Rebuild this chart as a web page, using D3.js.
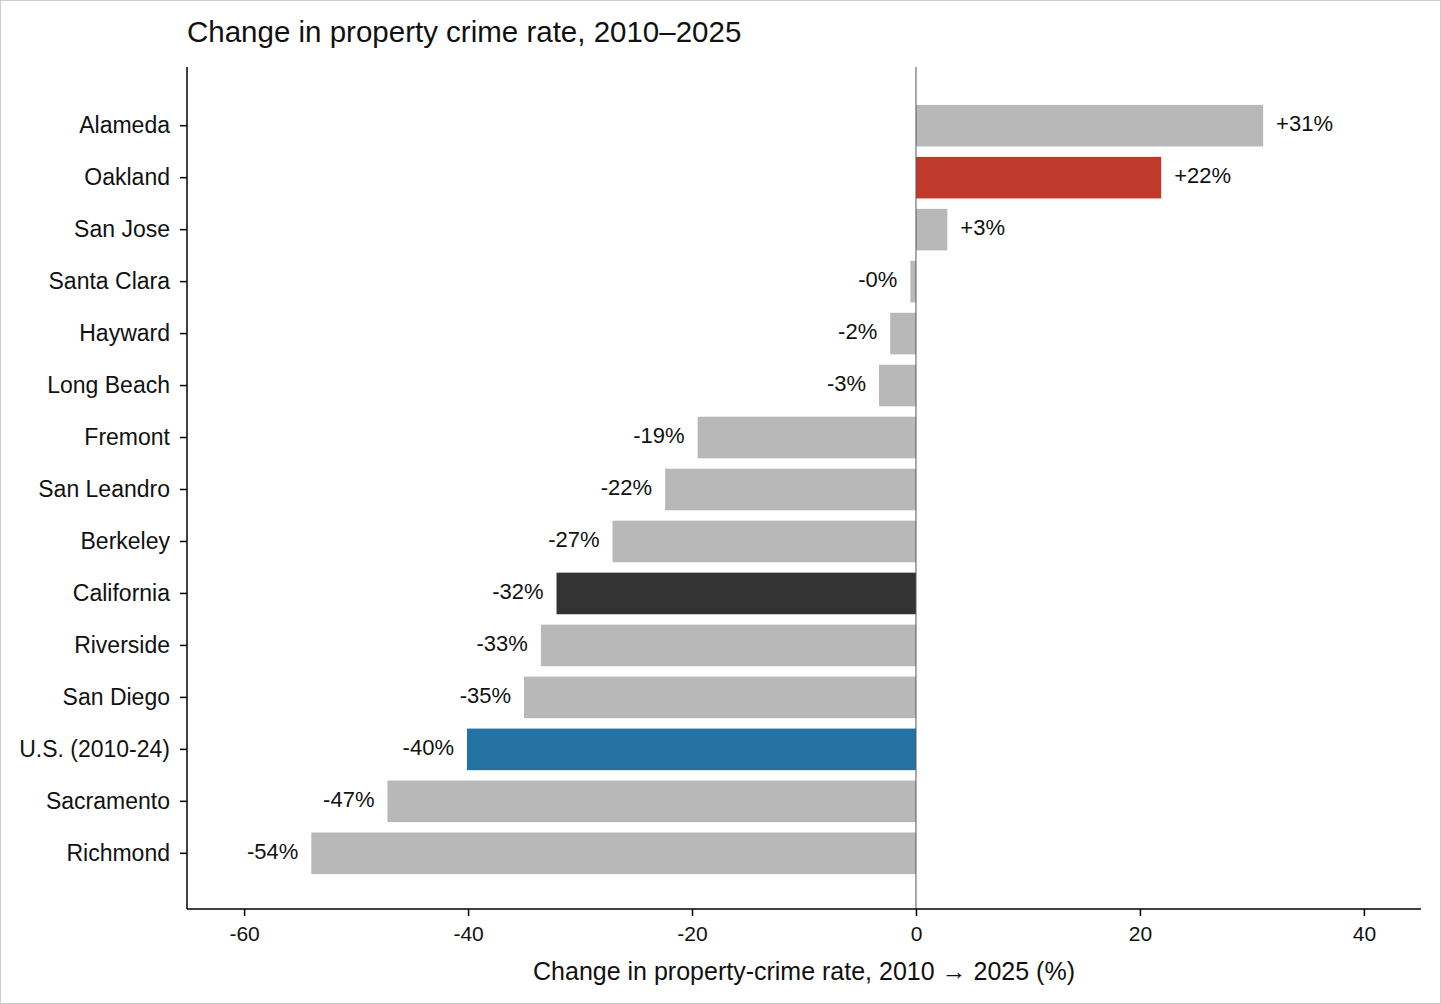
<!DOCTYPE html>
<html><head><meta charset="utf-8">
<script src="https://cdn.jsdelivr.net/npm/d3@7"></script>
<style>
body{margin:0;background:#fff;}
svg{display:block;font-family:"Liberation Sans",Arial,sans-serif;}
</style></head>
<body>
<svg id="chart" width="1441" height="1004"></svg>
<script>
// places, values (% change) and which bar gets a highlight colour
var places = ["Alameda","Oakland","San Jose","Santa Clara","Hayward","Long Beach","Fremont","San Leandro","Berkeley","California","Riverside","San Diego","U.S. (2010-24)","Sacramento","Richmond"];
var changes = [31.0, 21.9, 2.8, -0.5, -2.3, -3.3, -19.5, -22.4, -27.1, -32.1, -33.5, -35.0, -40.1, -47.2, -54.0];
var labels = ["+31%","+22%","+3%","-0%","-2%","-3%","-19%","-22%","-27%","-32%","-33%","-35%","-40%","-47%","-54%"];
var xTicks = [-60,-40,-20,0,20,40];
var colorFor = {"Oakland":"#c0392b","California":"#333333","U.S. (2010-24)":"#2471a3"};

var svg = d3.select("#chart");
var plotL = 187, plotR = 1421, plotT = 67, plotB = 909;

svg.append("rect").attr("x",0.5).attr("y",0.5).attr("width",1440).attr("height",1003)
    .attr("fill","none").attr("stroke","#cccccc");

var x = d3.scaleLinear().domain([-65.1,45.1]).range([plotL,plotR]);
var y = d3.scaleBand().domain(places).range([94.5,884.5]).paddingInner(0.2).paddingOuter(0.2);

var rows = places.map(function(p,i){ return {name:p, v:changes[i], label:labels[i]}; });

svg.selectAll("rect.bar").data(rows).enter().append("rect")
    .attr("class","bar")
    .attr("x", function(d){ return x(Math.min(0,d.v)); })
    .attr("width", function(d){ return Math.abs(x(d.v)-x(0)); })
    .attr("y", function(d){ return y(d.name); })
    .attr("height", y.bandwidth())
    .attr("fill", function(d){ return colorFor[d.name] || "#b8b8b8"; });

// zero line
svg.append("line").attr("x1",x(0)).attr("x2",x(0)).attr("y1",plotT).attr("y2",plotB)
    .attr("stroke","#555").attr("stroke-width",1);

svg.selectAll("text.val").data(rows).enter().append("text")
    .attr("class","val")
    .attr("x", function(d){ return d.v>=0 ? x(d.v)+13 : x(d.v)-13; })
    .attr("y", function(d){ return y(d.name)+y.bandwidth()/2 - 2; })
    .attr("dy","0.35em")
    .attr("text-anchor", function(d){ return d.v>=0 ? "start" : "end"; })
    .attr("font-size",22).attr("fill","#111")
    .text(function(d){ return d.label; });

var yAxis = svg.append("g").attr("transform","translate("+plotL+",0)")
    .call(d3.axisLeft(y).tickSize(7).tickPadding(10));
yAxis.select(".domain").attr("d","M0,"+plotT+"V"+plotB);
yAxis.selectAll("text").attr("font-size",23).attr("fill","#111").attr("font-family","Liberation Sans, Arial, sans-serif");

var xAxis = svg.append("g").attr("transform","translate(0,"+plotB+")")
    .call(d3.axisBottom(x).tickValues(xTicks).tickSize(7).tickPadding(10).tickFormat(function(d){ return String(d); }));
xAxis.select(".domain").attr("d","M"+plotL+",0H"+plotR);
xAxis.selectAll("text").attr("font-size",21).attr("fill","#111").attr("font-family","Liberation Sans, Arial, sans-serif");
svg.selectAll(".domain, .tick line").attr("stroke","#000").attr("stroke-width",1.5);

svg.append("text").attr("x",(plotL+plotR)/2).attr("y",980).attr("text-anchor","middle")
    .attr("font-size",25).attr("fill","#111")
    .text("Change in property-crime rate, 2010 \u2192 2025 (%)");

svg.append("text").attr("x",plotL).attr("y",42)
    .attr("font-size",29.5).attr("fill","#111")
    .text("Change in property crime rate, 2010\u20132025");
</script>
</body></html>
